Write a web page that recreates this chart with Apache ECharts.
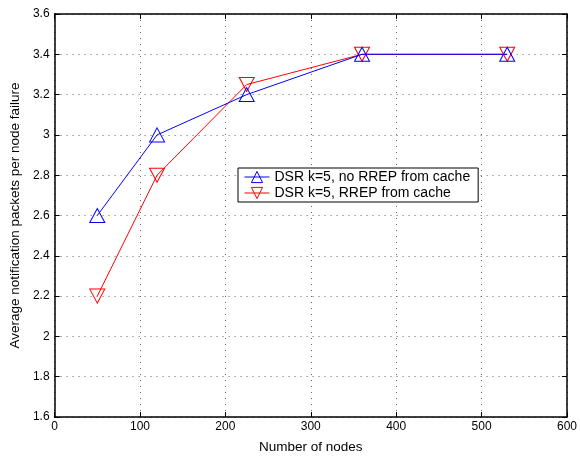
<!DOCTYPE html>
<html><head><meta charset="utf-8">
<script src="https://cdn.jsdelivr.net/npm/echarts@6/dist/echarts.min.js"></script>
<style>html,body{margin:0;padding:0;background:#fff}#c{width:580px;height:459px}</style>
</head><body><div id="c"></div>
<script>
const nodes = [50, 120, 225, 360, 530];
const noCache = [2.6, 3.0, 3.2, 3.4, 3.4];
const withCache = [2.2, 2.8, 3.25, 3.4, 3.4];
const seriesNames = ['DSR k=5, no RREP from cache', 'DSR k=5, RREP from cache'];
const xTitle = 'Number of nodes';
const yTitle = 'Average notification packets per node failure';

const font = 'Liberation Sans, Arial, Helvetica, sans-serif';
const chart = echarts.init(document.getElementById('c'));
const gridLine = {show: true, lineStyle: {color: '#666', type: [1, 5], width: 1}};
chart.setOption({
  animation: false,
  grid: {left: 51, right: 11, top: 14, bottom: 36, containLabel: false},
  legend: {
    left: 238, top: 168, orient: 'vertical',
    backgroundColor: '#fff', borderColor: '#000', borderWidth: 1,
    padding: [2, 8, 2, 6], itemGap: 2, itemWidth: 25, itemHeight: 14,
    lineStyle: {width: 1},
    itemStyle: {borderWidth: 1},
    textStyle: {fontFamily: font, fontSize: 14, color: '#000'},
    data: seriesNames
  },
  xAxis: [{
    type: 'value', min: 0, max: 600, interval: 100,
    name: xTitle, nameLocation: 'middle', nameGap: 23,
    nameTextStyle: {fontFamily: font, fontSize: 13.5, color: '#000'},
    axisLine: {show: true, onZero: false, lineStyle: {color: '#000', width: 1.5}},
    axisTick: {show: true, inside: true, length: 5, lineStyle: {color: '#000'}},
    axisLabel: {fontFamily: font, fontSize: 12, color: '#000', margin: 4},
    splitLine: gridLine
  }, {
    type: 'value', min: 0, max: 600, interval: 100, position: 'top',
    axisLine: {show: true, onZero: false, lineStyle: {color: '#000', width: 1.5}},
    axisTick: {show: true, inside: true, length: 5, lineStyle: {color: '#000'}},
    axisLabel: {show: false}, splitLine: {show: false}
  }],
  yAxis: [{
    type: 'value', min: 1.6, max: 3.6, interval: 0.2,
    name: yTitle, nameLocation: 'middle', nameGap: 28,
    nameTextStyle: {fontFamily: font, fontSize: 13.5, color: '#000'},
    axisLine: {show: true, onZero: false, lineStyle: {color: '#000', width: 1.5}},
    axisTick: {show: true, inside: true, length: 5, lineStyle: {color: '#000'}},
    axisLabel: {fontFamily: font, fontSize: 12, color: '#000', margin: 5,
      formatter: v => String(Math.round(v * 10) / 10)},
    splitLine: gridLine
  }, {
    type: 'value', min: 1.6, max: 3.6, interval: 0.2, position: 'right',
    axisLine: {show: true, onZero: false, lineStyle: {color: '#000', width: 1.5}},
    axisTick: {show: true, inside: true, length: 5, lineStyle: {color: '#000'}},
    axisLabel: {show: false}, splitLine: {show: false}
  }],
  series: [{
    name: seriesNames[0], type: 'line',
    data: nodes.map((x, i) => [x, noCache[i]]),
    symbol: 'triangle', symbolSize: [15, 14], showAllSymbol: true,
    lineStyle: {color: '#0000ff', width: 1},
    itemStyle: {color: 'rgba(255,255,255,0)', borderColor: '#0000ff', borderWidth: 1},
    z: 3
  }, {
    name: seriesNames[1], type: 'line',
    data: nodes.map((x, i) => [x, withCache[i]]),
    symbol: 'triangle', symbolRotate: 180, symbolSize: [15, 14], showAllSymbol: true,
    lineStyle: {color: '#ff0000', width: 1},
    itemStyle: {color: 'rgba(255,255,255,0)', borderColor: '#ff0000', borderWidth: 1},
    z: 2
  }]
});
</script></body></html>
